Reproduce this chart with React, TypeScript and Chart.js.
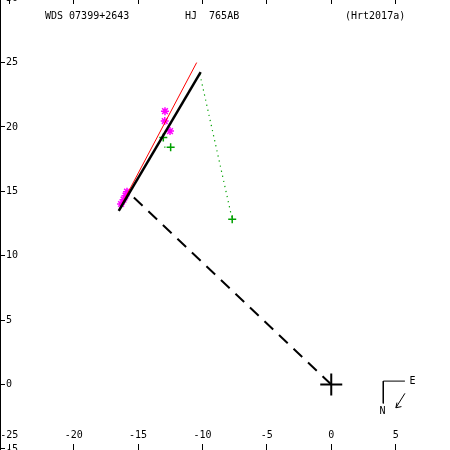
import React, { useEffect, useRef } from "react";
import { Chart, registerables } from "chart.js";

Chart.register(...registerables);

// ---- axis data ----
const xTicks = [-25, -20, -15, -10, -5, 0, 5];
const yTicks = [-5, 0, 5, 10, 15, 20, 25, 30];
const xRange = [-25.72, 9.22];
const yRange = [-5.08, 29.86];

// ---- series ----
const orbitNew = [{ x: -10.14, y: 24.26 }, { x: -16.5, y: 13.49 }];
const orbitOld = [{ x: -10.45, y: 25.0 }, { x: -16.48, y: 13.59 }];
const periastronLine = [{ x: 0, y: 0 }, { x: -15.4, y: 14.6 }];
const micrometric = [{ x: -7.69, y: 12.83 }, { x: -12.47, y: 18.42 }, { x: -13.04, y: 19.19 }];
const residualA = [{ x: -10.2, y: 24.1 }, { x: -7.69, y: 12.83 }];
const residualB = [{ x: -12.47, y: 18.42 }, { x: -13.1, y: 18.44 }];
const speckle = [
  { x: -12.91, y: 21.23 },
  { x: -12.93, y: 20.46 },
  { x: -12.52, y: 19.68 },
  { x: -16.32, y: 14.02 },
  { x: -16.13, y: 14.36 },
  { x: -15.98, y: 14.67 },
  { x: -15.86, y: 14.98 },
];
const primary = [{ x: 0, y: 0 }];
const compassFrame = [{ x: 5.72, y: 0.27 }, { x: 4.04, y: 0.27 }, { x: 4.04, y: -1.46 }];
const compassArrow = [{ x: 5.72, y: -0.68 }, { x: 5.02, y: -1.8 }];
const compassHead = [{ x: 5.1, y: -1.4 }, { x: 5.02, y: -1.8 }, { x: 5.45, y: -1.71 }];
const compassLabels = [{ text: "E", x: 6.3, y: 0.27 }, { text: "N", x: 3.98, y: -2.06 }];
const headerTexts = ["WDS 07399+2643", "HJ  765AB", "(Hrt2017a)"];

const FONT = '"DejaVu Sans Mono", monospace';

const textPlugin = {
  id: "texts",
  afterDraw(chart: any) {
    const ctx = chart.ctx;
    const xs = chart.scales.x;
    const ys = chart.scales.y;
    ctx.save();
    ctx.font = `10px ${FONT}`;
    ctx.fillStyle = "#000";
    ctx.textBaseline = "middle";
    ctx.textAlign = "left";
    const headerX = [45, 185, 345];
    headerTexts.forEach((t, i) => ctx.fillText(t, headerX[i], 16.5));
    ctx.textAlign = "center";
    compassLabels.forEach((l) =>
      ctx.fillText(l.text, xs.getPixelForValue(l.x), ys.getPixelForValue(l.y))
    );
    ctx.restore();
  },
};

function line(data: any[], color: string, width: number, dash: number[] = []) {
  return {
    data,
    showLine: true,
    borderColor: color,
    borderWidth: width,
    borderDash: dash,
    pointRadius: 0,
    fill: false,
  };
}

function flatten(horizontal: boolean) {
  return (s: any) => {
    if (horizontal) s.height = 0;
    else s.width = 0;
    s.paddingLeft = 0;
    s.paddingRight = 0;
    s.paddingTop = 0;
    s.paddingBottom = 0;
  };
}

export default function App() {
  const ref = useRef<HTMLCanvasElement>(null);
  useEffect(() => {
    if (!ref.current) return;
    const tickFont = { family: FONT, size: 10 };
    const chart = new Chart(ref.current, {
      type: "scatter",
      data: {
        datasets: [
          line(orbitNew, "#000", 2.5),
          line(orbitOld, "#ff0000", 1),
          {
            data: speckle,
            pointStyle: "star",
            pointRadius: 4,
            borderWidth: 1.5,
            borderColor: "#ff00ff",
            backgroundColor: "#ff00ff",
          },
          {
            data: micrometric,
            pointStyle: "cross",
            pointRadius: 4,
            borderWidth: 1.5,
            borderColor: "#00a000",
            backgroundColor: "#00a000",
          },
          line(residualA, "#00a000", 1.2, [1.2, 4]),
          line(residualB, "#00a000", 1.2, [1.2, 4]),
          line(periastronLine, "#000", 2, [12, 8]),
          {
            data: primary,
            pointStyle: "cross",
            pointRadius: 11,
            borderWidth: 2,
            borderColor: "#000",
          },
          line(compassFrame, "#000", 1),
          line(compassArrow, "#000", 1),
          line(compassHead, "#000", 1),
        ] as any,
      },
      options: {
        animation: false,
        responsive: false,
        devicePixelRatio: 1,
        layout: { padding: 0, autoPadding: false },
        plugins: { legend: { display: false }, tooltip: { enabled: false } },
        scales: {
          x: {
            type: "linear",
            position: "bottom",
            min: xRange[0],
            max: xRange[1],
            afterFit: flatten(true),
            afterBuildTicks: (s: any) => {
              s.ticks = xTicks.map((v) => ({ value: v }));
            },
            border: { display: true, color: "#000", width: 1 },
            grid: { drawOnChartArea: false, drawTicks: true, tickLength: -6, color: "#000", lineWidth: 1 },
            ticks: {
              mirror: true,
              padding: 9,
              autoSkip: false,
              maxRotation: 0,
              minRotation: 0,
              color: "#000",
              font: tickFont,
              callback: (v: any) => String(v),
            },
          },
          x2: {
            type: "linear",
            axis: "x",
            position: "top",
            min: xRange[0],
            max: xRange[1],
            afterFit: flatten(true),
            afterBuildTicks: (s: any) => {
              s.ticks = xTicks.map((v) => ({ value: v }));
            },
            border: { display: false },
            grid: { drawOnChartArea: false, drawTicks: true, tickLength: -4, color: "#000", lineWidth: 1 },
            ticks: { display: false },
          },
          y: {
            type: "linear",
            position: "left",
            min: yRange[0],
            max: yRange[1],
            afterFit: flatten(false),
            afterBuildTicks: (s: any) => {
              s.ticks = yTicks.map((v) => ({ value: v }));
            },
            border: { display: true, color: "#000", width: 1 },
            grid: { drawOnChartArea: false, drawTicks: true, tickLength: -5, color: "#000", lineWidth: 1 },
            ticks: {
              mirror: true,
              padding: 6,
              crossAlign: "near",
              autoSkip: false,
              color: "#000",
              font: tickFont,
              callback: (v: any) => String(v),
            },
          },
        } as any,
      },
      plugins: [textPlugin],
    });
    return () => chart.destroy();
  }, []);
  return (
    <div style={{ position: "fixed", left: 0, top: 0, width: 450, height: 450, background: "#fff" }}>
      <canvas ref={ref} width={450} height={450} style={{ display: "block" }} />
    </div>
  );
}
